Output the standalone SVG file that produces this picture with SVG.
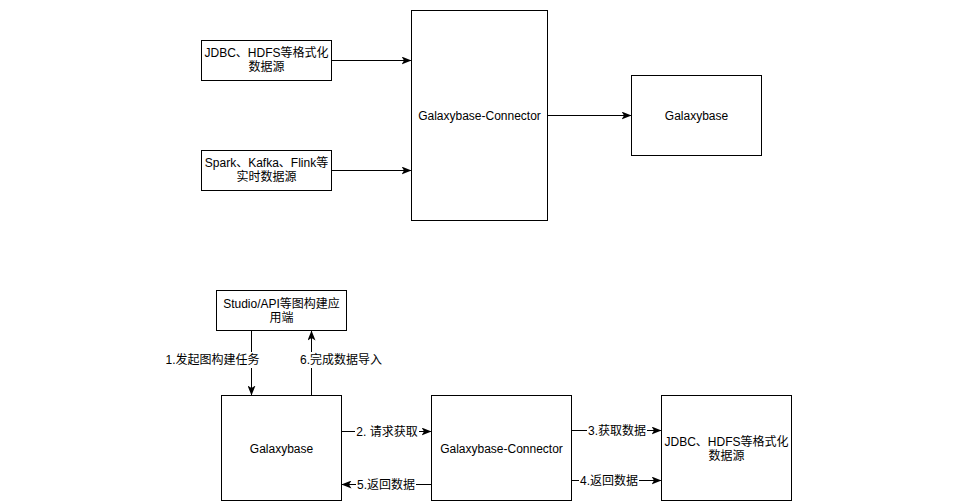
<svg xmlns="http://www.w3.org/2000/svg" width="977" height="504" viewBox="0 0 977 504">
<defs>
<style>
.box{fill:#fff;stroke:#000;stroke-width:1}
.t{font-family:"Liberation Sans","Noto Sans CJK SC",Arial,sans-serif;font-size:12px;fill:#000;text-anchor:middle;dominant-baseline:central}
.ln{fill:none;stroke:#000;stroke-width:1}
.lb{fill:#fff}
</style>
<marker id="ah" viewBox="0 0 10 8" refX="10" refY="4" markerWidth="10" markerHeight="8" markerUnits="userSpaceOnUse" orient="auto">
<path d="M0,0 L10,4 L0,8 L2.5,4 Z" fill="#000"/>
</marker>
</defs>
<rect width="977" height="504" fill="#fff"/>
<g id="connectors">
<path class="ln" d="M331.5,60.5 L411.5,60.5" marker-end="url(#ah)"/>
<path class="ln" d="M331.5,170.5 L411.5,170.5" marker-end="url(#ah)"/>
<path class="ln" d="M547.5,115.5 L631.5,115.5" marker-end="url(#ah)"/>
<path class="ln" d="M251.5,330.5 L251.5,395.5" marker-end="url(#ah)"/>
<rect class="lb" x="166" y="352" width="93" height="16"/>
<text class="t" x="212.5" y="360">1.发起图构建任务</text>
<path class="ln" d="M311.5,395.5 L311.5,330.5" marker-end="url(#ah)"/>
<rect class="lb" x="299" y="352" width="84" height="16"/>
<text class="t" x="341" y="360">6.完成数据导入</text>
<path class="ln" d="M341.5,431.5 L431.5,431.5" marker-end="url(#ah)"/>
<rect class="lb" x="355" y="424" width="64" height="16"/>
<text class="t" x="387" y="432">2. 请求获取</text>
<path class="ln" d="M431.5,484.5 L341.5,484.5" marker-end="url(#ah)"/>
<rect class="lb" x="356" y="477" width="60" height="16"/>
<text class="t" x="386" y="485">5.返回数据</text>
<path class="ln" d="M571.5,430.5 L661.5,430.5" marker-end="url(#ah)"/>
<rect class="lb" x="587" y="423" width="60" height="16"/>
<text class="t" x="617" y="431">3.获取数据</text>
<path class="ln" d="M571.5,480.5 L661.5,480.5" marker-end="url(#ah)"/>
<rect class="lb" x="579" y="473" width="60" height="16"/>
<text class="t" x="609" y="481">4.返回数据</text>
</g>
<g id="jdbc-top">
<rect class="box" x="201.5" y="40.5" width="130" height="40"/>
<text class="t" x="266.5" y="53">JDBC、HDFS等格式化</text>
<text class="t" x="266.5" y="67">数据源</text>
</g>
<g id="spark-top">
<rect class="box" x="201.5" y="150.5" width="130" height="40"/>
<text class="t" x="266.5" y="163">Spark、Kafka、Flink等</text>
<text class="t" x="266.5" y="177">实时数据源</text>
</g>
<g id="connector-top">
<rect class="box" x="411.5" y="10.5" width="136" height="210"/>
<text class="t" x="479.5" y="116">Galaxybase-Connector</text>
</g>
<g id="galaxybase-top">
<rect class="box" x="631.5" y="75.5" width="130" height="80"/>
<text class="t" x="696.5" y="116">Galaxybase</text>
</g>
<g id="studio">
<rect class="box" x="216.5" y="290.5" width="130" height="40"/>
<text class="t" x="281.5" y="304">Studio/API等图构建应</text>
<text class="t" x="281.5" y="318">用端</text>
</g>
<g id="galaxybase-bottom">
<rect class="box" x="221.5" y="395.5" width="120" height="105"/>
<text class="t" x="281.5" y="449">Galaxybase</text>
</g>
<g id="connector-bottom">
<rect class="box" x="431.5" y="395.5" width="140" height="105"/>
<text class="t" x="501.5" y="449">Galaxybase-Connector</text>
</g>
<g id="jdbc-bottom">
<rect class="box" x="661.5" y="395.5" width="130" height="105"/>
<text class="t" x="726.5" y="442">JDBC、HDFS等格式化</text>
<text class="t" x="726.5" y="456">数据源</text>
</g>
</svg>
